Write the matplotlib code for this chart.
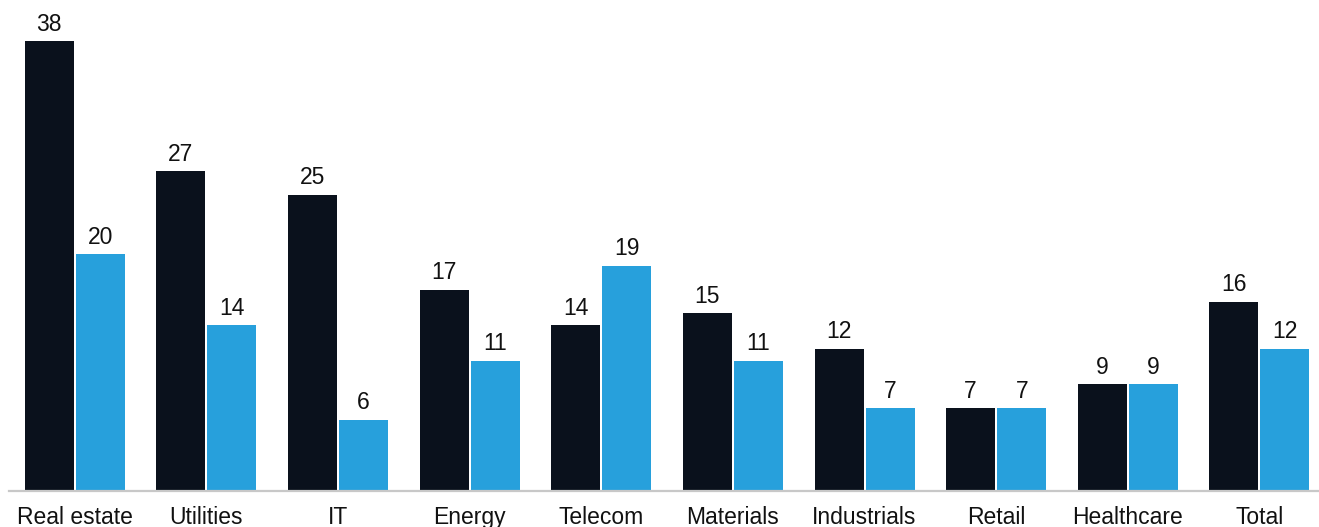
import matplotlib
matplotlib.use("Agg")
from matplotlib import pyplot as plt
import numpy as np

categories = ["Real estate", "Utilities", "IT", "Energy", "Telecom",
              "Materials", "Industrials", "Retail", "Healthcare", "Total"]
series_dark = [38, 27, 25, 17, 14, 15, 12, 7, 9, 16]
series_blue = [20, 14, 6, 11, 19, 11, 7, 7, 9, 12]

dark = "#0a111c"
blue = "#27a0dc"

plt.rcParams['font.family'] = ['Liberation Sans', 'DejaVu Sans']

fig = plt.figure(figsize=(13.19, 5.27), dpi=100)
ax = fig.add_axes([9/1319, 1 - 491/527, (1318 - 9)/1319, 491/527])

x = np.arange(len(categories))
w = 0.372
off = 0.194
b1 = ax.bar(x - off, series_dark, w, color=dark)
b2 = ax.bar(x + off, series_blue, w, color=blue)

for bars, vals in ((b1, series_dark), (b2, series_blue)):
    for r, v in zip(bars, vals):
        ax.annotate(str(v), (r.get_x() + r.get_width()/2, v),
                    xytext=(0, 4), textcoords="offset points",
                    ha="center", va="bottom", fontsize=16.5, color="#111111")

ax.set_xlim(-0.5, 9.445)
ax.set_ylim(0, 41.47)
ax.set_xticks(x)
ax.set_xticklabels(categories, fontsize=16.5, color="#111111")
ax.tick_params(axis="x", length=0, pad=11)
ax.set_yticks([])
for s in ("top", "right", "left"):
    ax.spines[s].set_visible(False)
ax.spines["bottom"].set_color("#c8c8c8")
ax.spines["bottom"].set_linewidth(1.6)

fig.savefig("out.png", dpi=100)
